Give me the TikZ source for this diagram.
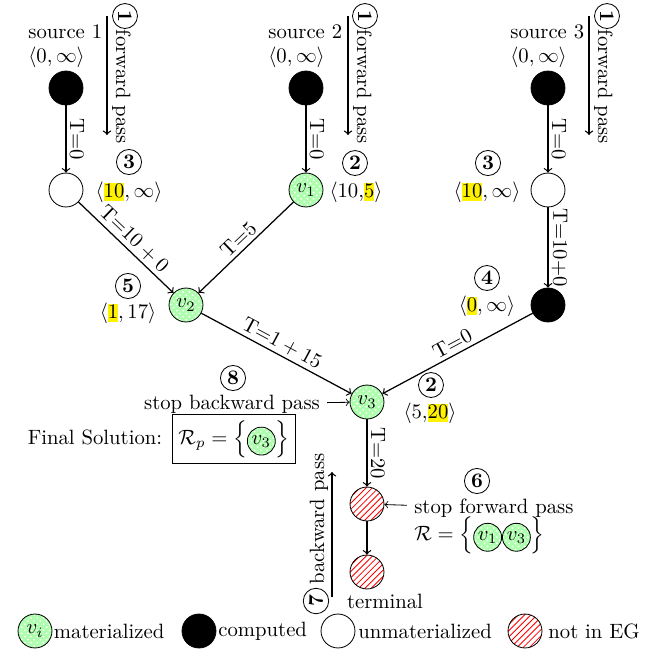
\documentclass[tikz,border=0pt]{standalone}
\usetikzlibrary{patterns}
\newcommand{\hlt}[1]{{\setlength{\fboxsep}{0pt}\colorbox{yellow}{\rule[-2pt]{0pt}{9pt}#1}}}
\tikzset{
  vnode/.style={circle, draw, minimum size=16.4pt, inner sep=0pt},
  mat/.style={vnode, preaction={fill=green!32}, pattern=crosshatch dots, pattern color=white},
  comp/.style={vnode, fill=black},
  unmat/.style={vnode, fill=white},
  noteg/.style={vnode, pattern=north east lines, pattern color=red},
  num/.style={circle, draw, inner sep=1.2pt, font=\bfseries},
  edge/.style={->, semithick},
  elab/.style={sloped, above, inner sep=1.5pt, midway},
  vlab/.style={rotate=-90, anchor=south, inner sep=1.5pt, midway},
  txt/.style={inner sep=0pt},
}
\newcommand{\minicirc}[1]{\tikz[baseline=(mc.base)]\node[mat, minimum size=13.5pt] (mc) {$#1$};}
\begin{document}
\begin{tikzpicture}[x=0.4831pt, y=-0.4831pt]
\useasboundingbox (0,0) rectangle (656,649);
% nodes
\node[comp] (s1) at (66,88) {};
\node[unmat] (w1) at (66,190) {};
\node[comp] (s2) at (306,88) {};
\node[mat] (v1) at (306,190) {$v_1$};
\node[comp] (s3) at (548,88) {};
\node[unmat] (w3) at (548,190) {};
\node[comp] (b4) at (548,305) {};
\node[mat] (v2) at (186,305) {$v_2$};
\node[mat] (v3) at (367,402) {$v_3$};
\node[noteg] (r1) at (367,504) {};
\node[noteg] (r2) at (367,572) {};
% edges
\draw[edge] (s1) -- node[vlab]{T=0} (w1);
\draw[edge] (s2) -- node[vlab]{T=0} (v1);
\draw[edge] (s3) -- node[vlab]{T=0} (w3);
\draw[edge] (w3) -- node[vlab]{T=10+0} (b4);
\draw[edge] (w1) -- node[elab]{T=$10+0$} (v2);
\draw[edge] (v1) -- node[elab]{T=5} (v2);
\draw[edge] (v2) -- node[elab]{T=$1+15$} (v3);
\draw[edge] (b4) -- node[elab]{T=0} (v3);
\draw[edge] (v3) -- node[vlab]{T=20} (r1);
\draw[edge] (r1) -- (r2);
% source labels
\node[txt, anchor=base west] (src1a) at (28,38) {source 1};
\node[txt, anchor=base west] (src1b) at (28,62) {$\langle 0,\infty\rangle$};
\node[txt, anchor=base west] (src2a) at (268,38) {source 2};
\node[txt, anchor=base west] (src2b) at (268,62) {$\langle 0,\infty\rangle$};
\node[txt, anchor=base west] (src3a) at (510,38) {source 3};
\node[txt, anchor=base west] (src3b) at (510,62) {$\langle 0,\infty\rangle$};
% forward pass arrows
\coordinate (fa1) at (107,16); \coordinate (fb1) at (107,135);
\coordinate (fa2) at (348,16); \coordinate (fb2) at (348,135);
\coordinate (fa3) at (589,16); \coordinate (fb3) at (589,135);
\draw[edge] (fa1) -- (fb1);
\draw[edge] (fa2) -- (fb2);
\draw[edge] (fa3) -- (fb3);
\node[txt, rotate=-90] (fp1) at (121.5,87) {forward pass};
\node[txt, rotate=-90] (fp2) at (362.5,87) {forward pass};
\node[txt, rotate=-90] (fp3) at (603.5,87) {forward pass};
\node[num, rotate=-90] (n1a) at (125,16) {1};
\node[num, rotate=-90] (n1b) at (365,16) {1};
\node[num, rotate=-90] (n1c) at (607,16) {1};
% value labels
\node[num] (n3a) at (129,162) {3};
\node[txt] (t3a) at (129,192) {$\langle \hlt{10}, \infty\rangle$};
\node[num] (n2a) at (355,163) {2};
\node[txt] (t2a) at (356,192) {$\langle$10,\hlt{5}$\rangle$};
\node[num] (n3b) at (488,163) {3};
\node[txt] (t3b) at (487,192) {$\langle \hlt{10}, \infty\rangle$};
\node[num] (n4) at (487,278) {4};
\node[txt] (t4) at (487,306) {$\langle \hlt{0}, \infty\rangle$};
\node[num] (n5) at (128,286) {5};
\node[txt] (t5) at (128,313) {$\langle \hlt{1}, 17\rangle$};
\node[num] (n2b) at (431,385) {2};
\node[txt] (t2b) at (430,413) {$\langle$5,\hlt{20}$\rangle$};
% stop backward pass
\node[num] (n8) at (233,378) {8};
\node (sbp) at (232,404) {stop backward pass};
\draw[->] (sbp) -- (v3);
% final solution
\node[anchor=base] (fsl) at (95,444) {Final Solution:};
\node[draw, inner sep=3pt, anchor=base] (fs) at (234,444) {$\mathcal{R}_p = \left\{\minicirc{v_3}\right\}$};
% stop forward pass
\node[anchor=west] (sfp) at (407,508) {stop forward pass};
\draw[->] (sfp) -- (r1);
\node[num] (n6) at (477,481) {6};
\node[anchor=west] (rset) at (407,535) {$\mathcal{R} = \left\{\minicirc{v_1}\minicirc{v_3}\right\}$};
% terminal
\node[txt, anchor=base] (term) at (385,608) {terminal};
% backward pass
\coordinate (ba) at (332,597); \coordinate (bb) at (332,472);
\draw[edge] (ba) -- (bb);
\node[txt, rotate=90] (bp) at (319,519) {backward pass};
\node[num, rotate=90] (n7) at (316,601) {7};
% legend
\node[mat] (lg1) at (35,631) {$v_i$};
\node[txt, anchor=west] (lt1) at (53.5,631) {materialized};
\node[comp] (lg2) at (199,631) {};
\node[txt, anchor=west] (lt2) at (218,631) {computed};
\node[unmat] (lg3) at (338,631) {};
\node[txt, anchor=west] (lt3) at (358,631) {unmaterialized};
\node[noteg] (lg4) at (525,631) {};
\node[txt, anchor=west] (lt4) at (548,631) {not in EG};
\end{tikzpicture}
\end{document}
